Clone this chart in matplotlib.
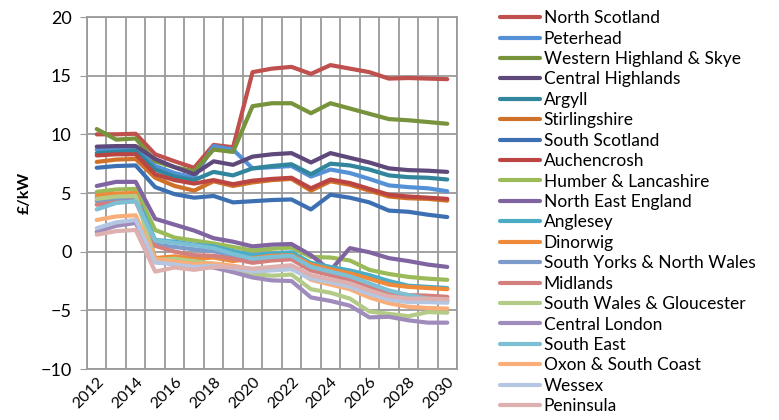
import matplotlib.pyplot as plt
import numpy as np

plt.rcParams["font.family"] = ["Lato", "DejaVu Sans"]

# ---------------------------------------------------------------------------
# Data: locational charge by zone, 2012-2030 (GBP/kW)
# ---------------------------------------------------------------------------

years = list(range(2012, 2031))

zones = [
    "North Scotland", "Peterhead", "Western Highland & Skye", "Central Highlands",
    "Argyll", "Stirlingshire", "South Scotland", "Auchencrosh",
    "Humber & Lancashire", "North East England", "Anglesey", "Dinorwig",
    "South Yorks & North Wales", "Midlands", "South Wales & Gloucester",
    "Central London", "South East", "Oxon & South Coast", "Wessex", "Peninsula",
]

north_scotland = [10.0, 10.0, 10.05, 8.3, 7.7, 7.15, 9.1, 8.9, 15.3, 15.6, 15.75,
                  15.15, 15.9, 15.6, 15.3, 14.75, 14.8, 14.75, 14.7]
peterhead = [8.7, 8.8, 8.85, 7.3, 6.7, 6.3, 9.0, 8.7, 7.1, 7.2, 7.3,
             6.4, 7.0, 6.7, 6.2, 5.65, 5.5, 5.4, 5.15]
western_highland = [10.45, 9.55, 9.65, 7.7, 7.2, 6.85, 8.7, 8.5, 12.4, 12.65, 12.65,
                    11.8, 12.65, 12.2, 11.75, 11.3, 11.2, 11.05, 10.9]
central_highlands = [8.95, 9.0, 9.0, 7.9, 7.2, 6.6, 7.7, 7.4, 8.1, 8.3, 8.4,
                     7.6, 8.4, 8.0, 7.6, 7.1, 6.95, 6.9, 6.8]
argyll = [8.4, 8.5, 8.6, 7.0, 6.4, 6.1, 6.8, 6.5, 7.1, 7.3, 7.45,
          6.6, 7.5, 7.35, 7.0, 6.5, 6.35, 6.3, 6.15]
stirlingshire = [7.65, 7.85, 7.9, 6.3, 5.6, 5.2, 6.0, 5.6, 5.9, 6.1, 6.2,
                 5.2, 6.0, 5.7, 5.2, 4.7, 4.55, 4.5, 4.35]
south_scotland = [7.15, 7.3, 7.35, 5.5, 4.9, 4.6, 4.75, 4.2, 4.3, 4.4, 4.45,
                  3.6, 4.85, 4.6, 4.2, 3.5, 3.4, 3.15, 2.95]
auchencrosh = [8.2, 8.3, 8.3, 6.6, 6.1, 5.8, 6.1, 5.75, 6.05, 6.2, 6.3,
               5.4, 6.15, 5.85, 5.35, 4.85, 4.7, 4.6, 4.5]
humber = [5.1, 5.3, 5.35, 1.85, 1.2, 0.95, 0.7, 0.4, 0.1, 0.25, 0.35,
          -0.45, -0.5, -0.75, -1.55, -1.9, -2.15, -2.3, -2.4]
north_east = [5.6, 5.95, 5.95, 2.8, 2.3, 1.8, 1.15, 0.85, 0.45, 0.6, 0.65,
              -0.3, -1.6, 0.3, -0.05, -0.55, -0.8, -1.1, -1.3]
anglesey = [4.6, 4.8, 4.8, 1.0, 0.85, 0.6, 0.45, 0.05, -0.3, -0.15, -0.05,
            -0.95, -1.3, -1.6, -2.0, -2.5, -2.9, -3.0, -3.1]
dinorwig = [4.8, 4.95, 5.0, -0.55, -0.4, -0.6, -0.5, -0.8, -0.55, -0.35, -0.3,
            -1.1, -1.5, -1.85, -2.3, -2.8, -3.0, -3.1, -3.2]
south_yorks = [4.3, 4.45, 4.5, 0.6, 0.4, 0.2, 0.05, -0.4, -0.7, -0.55, -0.45,
               -1.35, -1.8, -2.2, -2.8, -3.4, -3.8, -4.0, -4.2]
midlands = [4.0, 4.2, 4.3, 0.5, 0.0, -0.3, -0.35, -0.6, -0.95, -0.75, -0.65,
            -1.6, -2.0, -2.4, -3.0, -3.5, -3.7, -3.75, -3.85]
south_wales = [4.5, 4.7, 4.75, -0.7, -0.6, -0.8, -1.05, -1.4, -1.9, -2.05, -1.95,
               -3.2, -3.5, -4.0, -5.1, -5.3, -5.5, -5.15, -5.2]
central_london = [1.7, 2.2, 2.45, -0.9, -1.0, -1.2, -1.35, -1.75, -2.2, -2.45, -2.5,
                  -3.9, -4.2, -4.6, -5.6, -5.55, -5.85, -6.05, -6.05]
south_east = [3.6, 4.15, 4.3, 0.95, 0.75, 0.55, 0.3, -0.2, -0.6, -0.45, -0.35,
              -1.3, -1.7, -2.1, -2.7, -3.3, -3.7, -4.0, -4.15]
oxon = [2.7, 3.0, 3.1, -0.6, -0.85, -1.05, -1.0, -1.2, -1.5, -1.4, -1.3,
        -2.4, -2.8, -3.2, -3.9, -4.4, -4.7, -4.8, -4.85]
wessex = [2.0, 2.5, 2.7, -0.9, -1.1, -1.3, -1.2, -1.4, -1.7, -1.6, -1.5,
          -2.3, -2.6, -3.0, -3.6, -4.1, -4.3, -4.3, -4.35]
peninsula = [1.45, 1.75, 1.85, -1.7, -1.35, -1.55, -1.3, -1.3, -1.45, -1.3, -1.15,
             -2.0, -2.35, -2.7, -3.3, -3.8, -4.0, -4.0, -4.05]

series = [
    north_scotland, peterhead, western_highland, central_highlands,
    argyll, stirlingshire, south_scotland, auchencrosh,
    humber, north_east, anglesey, dinorwig,
    south_yorks, midlands, south_wales,
    central_london, south_east, oxon, wessex, peninsula,
]

colors = [
    "#C0504D", "#5591D6", "#77933C", "#5F497A",
    "#31859C", "#D0712A", "#3D70B2", "#BA4542",
    "#9BBB59", "#8064A2", "#4BACC6", "#EE8A3A",
    "#7D9BCB", "#D37F7D", "#B3CB86",
    "#A08CBC", "#7DC0D6", "#F9AE7A", "#B4C6E2", "#DEB0AF",
]

# ---------------------------------------------------------------------------
# Plot
# ---------------------------------------------------------------------------

fig = plt.figure(figsize=(7.79, 4.20), dpi=100)
ax = fig.add_axes([87 / 779, 1 - 369 / 420, 370 / 779, 352 / 420])

for vals, name, col in zip(series, zones, colors):
    ax.plot(years, vals, color=col, linewidth=3.0, label=name,
            solid_capstyle="round", solid_joinstyle="round")

ax.set_xlim(2011.5, 2030.5)
ax.set_ylim(-10, 20)
ax.set_yticks(np.arange(-10, 21, 5))
ax.set_xticks(years[::2])
ax.set_xticks(np.arange(2011.5, 2031, 1), minor=True)

grid_col = "#9A9A9A"
ax.grid(True, which="minor", axis="x", color=grid_col, linewidth=1.3)
ax.grid(True, which="major", axis="y", color=grid_col, linewidth=1.3)
ax.set_axisbelow(True)
for side in ["left", "bottom", "right", "top"]:
    ax.spines[side].set_color(grid_col)
    ax.spines[side].set_linewidth(1.3)

ax.tick_params(axis="y", which="major", length=5, color=grid_col,
               labelsize=13, pad=6)
ax.tick_params(axis="x", which="both", length=0, labelsize=11.5, pad=4)
plt.setp(ax.get_xticklabels(), rotation=45, ha="right", rotation_mode="anchor")

ax.set_ylabel("£/kW", fontsize=11.5, fontweight="bold")
ax.yaxis.set_label_coords(-0.15, 0.5)

fig.legend(
    loc="upper left", bbox_to_anchor=(488 / 779, 1 + 2 / 420),
    frameon=False, fontsize=12.5, handlelength=2.3, handletextpad=0.2,
    labelspacing=0.255, borderaxespad=0.3,
)

fig.savefig("out.png", dpi=100)
